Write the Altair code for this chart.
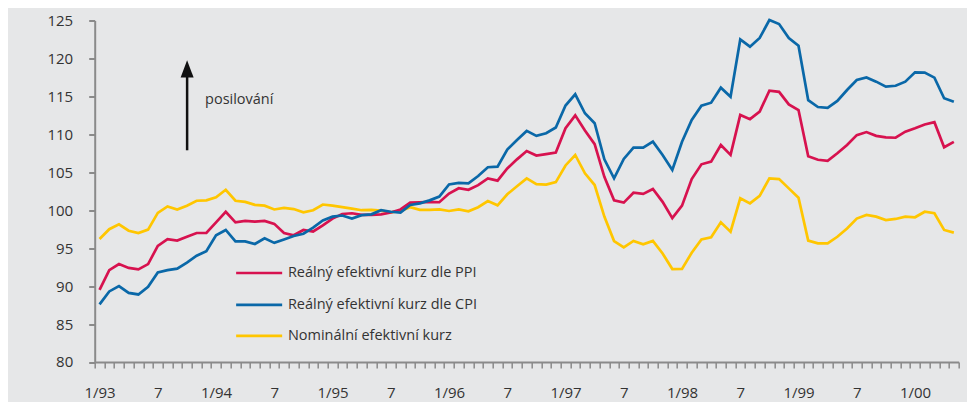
import altair as alt
import pandas as pd

# Monthly data 1/93 .. 5/00 (89 months)
ppi = [89.5, 92.1, 92.9, 92.4, 92.2, 92.9, 95.3, 96.2, 96.0, 96.5, 97.0, 97.0, 98.4, 99.8, 98.4, 98.6, 98.5, 98.6, 98.2, 97.0,
       96.7, 97.4, 97.2, 98.0, 98.9, 99.5, 99.6, 99.4, 99.4, 99.45, 99.7, 100.1, 101.0, 101.05, 101.1, 101.05, 102.2, 102.9, 102.7, 103.3,
       104.2, 103.9, 105.5, 106.7, 107.8, 107.2, 107.4, 107.6, 110.8, 112.5, 110.5, 108.7, 104.4, 101.3, 101.0, 102.3, 102.15, 102.8, 101.1, 98.95,
       100.6, 104.1, 106.05, 106.4, 108.6, 107.3, 112.55, 112.0, 113.0, 115.75, 115.6, 113.95, 113.2, 107.1, 106.65, 106.5, 107.5, 108.6, 109.9, 110.3,
       109.8, 109.6, 109.55, 110.35, 110.8, 111.3, 111.6, 108.3, 109.0]
cpi = [87.6, 89.3, 90.0, 89.1, 88.9, 89.9, 91.8, 92.1, 92.3, 93.1, 94.0, 94.6, 96.7, 97.4, 95.9, 95.9, 95.55, 96.3, 95.7, 96.15,
       96.6, 96.9, 97.7, 98.65, 99.15, 99.3, 98.9, 99.35, 99.46, 100.0, 99.8, 99.7, 100.7, 100.9, 101.3, 101.8, 103.4, 103.6, 103.55, 104.5,
       105.66, 105.75, 108.0, 109.26, 110.45, 109.8, 110.14, 110.9, 113.8, 115.28, 112.77, 111.46, 106.7, 104.2, 106.76, 108.25, 108.25, 109.04, 107.28, 105.3,
       109.03, 111.9, 113.78, 114.17, 116.15, 114.96, 122.5, 121.55, 122.7, 125.06, 124.54, 122.7, 121.68, 114.5, 113.6, 113.5, 114.4, 115.84, 117.16, 117.5,
       116.94, 116.28, 116.4, 116.94, 118.17, 118.13, 117.47, 114.75, 114.3]
nominal = [96.2, 97.5, 98.15, 97.3, 97.0, 97.45, 99.65, 100.5, 100.1, 100.6, 101.25, 101.3, 101.7, 102.7, 101.25, 101.1, 100.7, 100.6, 100.1, 100.3,
           100.15, 99.72, 100.0, 100.75, 100.6, 100.4, 100.2, 100.0, 100.04, 99.95, 99.73, 99.9, 100.4, 100.04, 100.04, 100.1, 99.9, 100.1, 99.85, 100.4,
           101.2, 100.65, 102.1, 103.15, 104.2, 103.43, 103.37, 103.7, 105.9, 107.28, 104.87, 103.32, 99.16, 95.93, 95.1, 95.95, 95.5, 95.95, 94.3, 92.25,
           92.26, 94.4, 96.16, 96.43, 98.4, 97.17, 101.57, 100.9, 101.9, 104.2, 104.1, 102.88, 101.65, 96.0, 95.64, 95.64, 96.5, 97.6, 98.9, 99.37,
           99.15, 98.7, 98.85, 99.15, 99.07, 99.8, 99.6, 97.4, 97.05]

series_names = ["Nominální efektivní kurz", "Reálný efektivní kurz dle PPI", "Reálný efektivní  kurz dle CPI"]
series_colors = ["#FFC600", "#D7124F", "#0A68A8"]
tick_labels = ["1/93", "7", "1/94", "7", "1/95", "7", "1/96", "7", "1/97", "7", "1/98", "7", "1/99", "7", "1/00"]
y_ticks = [80, 85, 90, 95, 100, 105, 110, 115, 120, 125]

n = len(ppi)
rows = []
for name, vals in zip(series_names, [nominal, ppi, cpi]):
    for i, v in enumerate(vals):
        rows.append({"t": i + 0.5, "v": v, "s": name})
df = pd.DataFrame(rows)

# legend (annotation) definitions, in data units
legend_order = ["Reálný efektivní kurz dle PPI", "Reálný efektivní  kurz dle CPI", "Nominální efektivní kurz"]
legend_y = [91.73, 87.52, 83.43]
legend_x0, legend_x1, legend_tx = 14.57, 19.31, 19.9
leg = pd.DataFrame({"s": legend_order, "y": legend_y,
                    "x0": [legend_x0] * 3, "x1": [legend_x1] * 3, "tx": [legend_tx] * 3})

arrow_x = 9.52
arrow = pd.DataFrame({"x": [arrow_x], "y0": [107.9], "y1": [117.6], "yh": [118.5]})
arrow_text = pd.DataFrame({"x": [11.37], "y": [114.53], "txt": ["posilování"]})

label_js = "[" + ",".join("'" + l + "'" for l in tick_labels) + "]"
label_expr = f"(datum.value % 6 == 0 && datum.value <= 84) ? {label_js}[datum.value / 6] : ''"

xscale = alt.Scale(domain=[0, n], nice=False, zero=False)
yscale = alt.Scale(domain=[80, 125], nice=False, zero=False)
cscale = alt.Scale(domain=series_names, range=series_colors)

xaxis = alt.Axis(values=list(range(n + 1)), labelExpr=label_expr, title=None, grid=False,
                 tickSize=6, tickWidth=1.5, tickColor="#8a8a8a", domainColor="#8a8a8a", domainWidth=2,
                 labelPadding=18, labelOffset=4.85, labelOverlap=False, labelBound=False, labelFlush=False,
                 labelFontSize=15, labelColor="#333333", labelFont="Open Sans")
yaxis = alt.Axis(values=y_ticks, title=None, grid=False, tickSize=6, tickWidth=2,
                 tickColor="#8a8a8a", domainColor="#8a8a8a", domainWidth=2,
                 labelPadding=16, labelFontSize=15, labelColor="#333333", labelFont="Open Sans",
                 labelOverlap=False)


def X(field):
    return alt.X(field, type="quantitative", scale=xscale, axis=xaxis)


def Y(field):
    return alt.Y(field, type="quantitative", scale=yscale, axis=yaxis)


lines = alt.Chart(df).mark_line(strokeWidth=2.7, strokeJoin="miter").encode(
    x=X("t"),
    y=Y("v"),
    color=alt.Color("s:N", scale=cscale, legend=None),
    detail="s:N",
    order=alt.Order("t:Q"),
)

leg_lines = alt.Chart(leg).mark_rule(strokeWidth=2.7).encode(
    x=X("x0"), x2="x1:Q", y=Y("y"),
    color=alt.Color("s:N", scale=cscale, legend=None),
)
leg_text = alt.Chart(leg).mark_text(align="left", baseline="middle", fontSize=14.5,
                                    font="Open Sans", color="#333333").encode(
    x=X("tx"), y=Y("y"), text="s:N")

arrow_shaft = alt.Chart(arrow).mark_rule(strokeWidth=2.5, color="#111111").encode(
    x=X("x"), y=Y("y0"), y2="y1:Q")
arrow_head = alt.Chart(arrow).mark_point(shape="M-0.75,0.9L0,-1.1L0.75,0.9Z", filled=True, size=300,
                                         color="#111111", opacity=1, strokeWidth=0).encode(
    x=X("x"), y=Y("yh"))
arrow_lbl = alt.Chart(arrow_text).mark_text(align="left", baseline="middle", fontSize=14.5,
                                           font="Open Sans", color="#333333").encode(
    x=X("x"), y=Y("y"), text="txt:N")

chart = alt.layer(lines, leg_lines, leg_text, arrow_shaft, arrow_head, arrow_lbl).properties(
    width=864, height=341.5,
    autosize=alt.AutoSizeParams(type="none"),
    padding={"left": 86.7, "top": 12.5, "right": 8, "bottom": 40},
    background="#E6E7E8",
).configure_view(stroke=None)

chart.save("out.html", embed_options={"renderer": "svg", "actions": False})
